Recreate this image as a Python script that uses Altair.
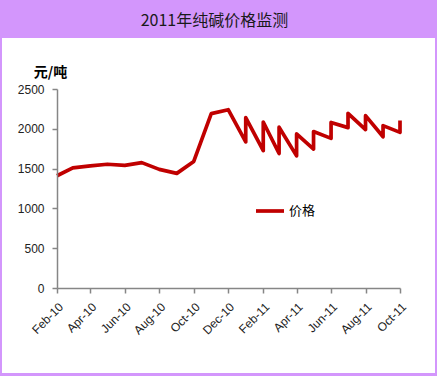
import altair as alt
import pandas as pd

# ---- data ----
dates = [
    "2010-02-01", "2010-03-01", "2010-04-01", "2010-05-01", "2010-06-01",
    "2010-07-01", "2010-08-01", "2010-09-01", "2010-10-01", "2010-11-01",
    "2010-12-01",
    "2011-01-01", "2011-01-01", "2011-02-01", "2011-02-01",
    "2011-03-01", "2011-03-01", "2011-04-01", "2011-04-01",
    "2011-05-01", "2011-05-01", "2011-06-01", "2011-06-01",
    "2011-07-01", "2011-07-01", "2011-08-01", "2011-08-01",
    "2011-09-01", "2011-09-01", "2011-10-01", "2011-10-01",
]
prices = [
    1410, 1510, 1535, 1555, 1540,
    1575, 1490, 1440, 1590, 2190,
    2240,
    1835, 2140, 1725, 2085,
    1690, 2020, 1660, 1935,
    1745, 1965, 1880, 2080,
    2015, 2195, 1990, 2165,
    1900, 2040, 1955, 2105,
]
series_name = "价格"
title_text = "2011年纯碱价格监测"
y_unit = "元/吨"
y_ticks = [0, 500, 1000, 1500, 2000, 2500]
x_tick_months = [(2010, 2), (2010, 4), (2010, 6), (2010, 8), (2010, 10), (2010, 12),
                 (2011, 2), (2011, 4), (2011, 6), (2011, 8), (2011, 10)]

df = pd.DataFrame({
    "date": dates,
    "price": prices,
    "series": [series_name] * len(prices),
    "idx": list(range(len(prices))),
})

LAV = "#D396FC"
RED = "#C00000"
AXC = "#868686"
FONT = "Liberation Sans"
CJK = "Noto Sans CJK SC"

W, H = 343, 199

bg = alt.Chart(pd.DataFrame({"a": [0]})).mark_rect(color="white").encode(
    x=alt.value(-55), x2=alt.value(378), y=alt.value(-51), y2=alt.value(284)
)

title = alt.Chart(pd.DataFrame({"t": [title_text]})).mark_text(
    font=CJK, fontSize=16, color="#1a1a1a", align="center", baseline="middle"
).encode(text="t:N", x=alt.value(157.5), y=alt.value(-68))

line = alt.Chart(df).mark_line(strokeWidth=3.7, strokeJoin="round").encode(
    x=alt.X(
        "date:T",
        scale=alt.Scale(
            type="utc",
            domain=[alt.DateTime(year=2010, month=2, date=1, utc=True),
                    alt.DateTime(year=2011, month=10, date=1, utc=True)],
        ),
        axis=alt.Axis(
            values=[alt.DateTime(year=y, month=m, date=1, utc=True) for y, m in x_tick_months],
            labelExpr="utcFormat(datum.value, '%b-%y')",
            labelAngle=-45, labelOverlap=False, title=None,
            labelFont=FONT, labelFontSize=12, labelColor="#222",
            domainColor=AXC, domainWidth=1.5, tickColor=AXC, tickWidth=1.5,
            tickSize=5, labelPadding=8, grid=False, zindex=1,
        ),
    ),
    y=alt.Y(
        "price:Q",
        scale=alt.Scale(domain=[0, 2500], nice=False),
        axis=alt.Axis(
            values=y_ticks, format="d", title=y_unit, titleAngle=0, titleX=-7, titleY=-17,
            titleAlign="center", titleBaseline="middle", titleFont=CJK,
            titleFontSize=14, titleFontWeight="bold", titleColor="#000",
            labelFont=FONT, labelFontSize=12, labelColor="#222",
            domainColor=AXC, domainWidth=1.5, tickColor=AXC, tickWidth=1.5,
            tickSize=5, labelPadding=8, grid=False, zindex=1,
        ),
    ),
    color=alt.Color(
        "series:N",
        scale=alt.Scale(range=[RED]),
        legend=alt.Legend(
            title=None, orient="none", legendX=197, legendY=106,
            symbolType="stroke", symbolSize=784, symbolStrokeWidth=3.7,
            labelFont=CJK, labelFontSize=13, labelColor="#000",
            labelOffset=3, padding=0,
        ),
    ),
    order=alt.Order("idx:Q"),
)

chart = alt.layer(bg, title, line).properties(
    width=W, height=H,
    autosize=alt.AutoSizeParams(type="none"),
    padding={"left": 57, "top": 89, "right": 37, "bottom": 88},
    background=LAV,
).configure_view(strokeWidth=0)

chart.save("out.html", embed_options={"renderer": "svg", "actions": False})
